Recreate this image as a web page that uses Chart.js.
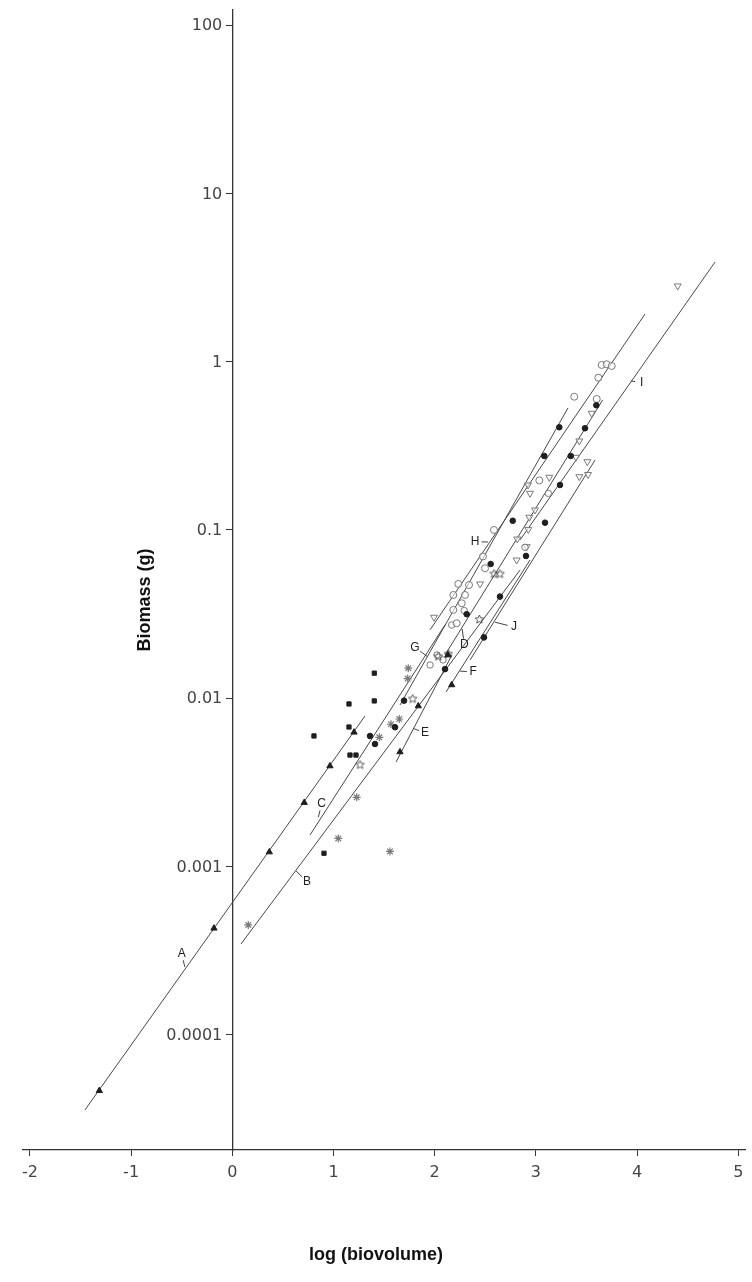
<!DOCTYPE html>
<html>
<head>
<meta charset="utf-8">
<script src="https://cdn.jsdelivr.net/npm/chart.js@4.4.1/dist/chart.umd.min.js"></script>
<style>
html,body{margin:0;padding:0;background:#fff;}
#wrap{width:752px;height:1282px;}
</style>
</head>
<body>
<div id="wrap"><canvas id="c" width="752" height="1282"></canvas></div>
<script>
// ---------- axis ticks ----------
const xTickValues = [-2, -1, 0, 1, 2, 3, 4, 5];
const xTickLabels = ['-2', '-1', '0', '1', '2', '3', '4', '5'];
const yTickValues = [0.0001, 0.001, 0.01, 0.1, 1, 10, 100];
const yTickLabels = ['0.0001', '0.001', '0.01', '0.1', '1', '10', '100'];
const xTitle = 'log (biovolume)';
const yTitle = 'Biomass (g)';

// ---------- regression lines (start / end in data units) ----------
const fitNames  = ['A', 'B', 'C', 'D', 'E', 'F', 'G', 'H', 'I', 'J'];
const fitStartX = [-1.456, 0.086, 0.768, 2.102, 1.618, 2.112, 1.657, 1.954, 2.843, 2.350];
const fitStartY = [3.58e-5, 3.47e-4, 1.54e-3, 0.0181, 4.18e-3, 0.0109, 9.12e-3, 0.0255, 0.0872, 0.01689];
const fitEndX   = [1.311, 2.843, 2.102, 3.660, 2.171, 2.942, 3.317, 4.078, 4.770, 3.585];
const fitEndY   = [7.85e-3, 0.0578, 0.0273, 0.592, 0.0181, 0.0663, 0.5308, 1.92, 3.91, 0.2606];

// line labels: text anchor and the point on the line the small tick points to
const labelTextX = [-0.500, 0.738, 0.883, 2.293, 1.904, 2.381, 1.805, 2.398, 4.045, 2.784];
const labelTextY = [3.03e-4, 8.13e-4, 2.35e-3, 0.0207, 6.22e-3, 0.01433, 0.0201, 0.0849, 0.754, 0.02652];
const labelLineX = [-0.467, 0.620, 0.847, 2.270, 1.776, 2.240, 1.934, 2.537, 3.929, 2.586];
const labelLineY = [2.50e-4, 9.55e-4, 1.94e-3, 0.0262, 6.66e-3, 0.01452, 0.01759, 0.0849, 0.768, 0.02841];

// ---------- observations ----------
const triFilledX = [-1.314, -0.181, 0.366, 0.711, 0.965, 1.203, 1.657, 1.838, 2.131, 2.168];
const triFilledY = [4.66e-5, 4.30e-4, 1.22e-3, 2.40e-3, 3.96e-3, 6.28e-3, 4.80e-3, 9.00e-3, 0.0181, 0.0120];

const squareX = [0.807, 1.153, 1.153, 1.163, 1.222, 1.403, 1.403, 0.906];
const squareY = [5.97e-3, 9.25e-3, 6.75e-3, 4.60e-3, 4.60e-3, 0.0141, 9.64e-3, 1.20e-3];

const asteriskX = [0.158, 1.047, 1.229, 1.558, 1.453, 1.568, 1.650, 1.739, 1.733];
const asteriskY = [4.50e-4, 1.47e-3, 2.58e-3, 1.23e-3, 5.86e-3, 7.01e-3, 7.53e-3, 0.0151, 0.0131];

const starX = [1.262, 1.783, 2.036, 2.134, 2.441, 2.586, 2.645];
const starY = [4.02e-3, 9.91e-3, 0.0177, 0.0183, 0.0294, 0.0548, 0.0548];

const dotX = [1.361, 1.410, 1.608, 1.697, 2.102, 2.316, 2.487, 2.553, 2.645, 2.771, 2.902, 3.090, 3.083, 3.231, 3.238, 3.344, 3.485, 3.597];
const dotY = [5.97e-3, 5.35e-3, 6.73e-3, 9.68e-3, 0.0149, 0.0316, 0.0230, 0.0628, 0.0402, 0.1135, 0.0701, 0.1105, 0.2753, 0.4076, 0.1851, 0.2753, 0.4021, 0.5508];

const circleX = [3.650, 3.700, 3.749, 3.617, 3.379, 3.601, 3.034, 2.586, 2.477, 2.497, 2.339, 2.233, 2.299, 2.184, 2.267, 2.184, 2.217];
const circleY = [0.956, 0.965, 0.943, 0.803, 0.619, 0.600, 0.197, 0.100, 0.0696, 0.0592, 0.0471, 0.0478, 0.0411, 0.0411, 0.0367, 0.0335, 0.0279];

const hexX = [1.954, 2.023, 2.082, 2.168, 2.292, 3.123, 2.892];
const hexY = [0.01577, 0.01808, 0.01690, 0.02725, 0.0332, 0.165, 0.0789];

const triOpenX = [3.551, 3.429, 3.508, 3.429, 3.515, 3.132, 2.922, 2.942, 2.991, 2.935, 2.925, 2.816, 2.909, 2.810, 2.448, 4.401, 3.396, 1.993];
const triOpenY = [0.4935, 0.3379, 0.2545, 0.2073, 0.2137, 0.2056, 0.1851, 0.1652, 0.1315, 0.1190, 0.1007, 0.0884, 0.0796, 0.0663, 0.0478, 2.818, 0.2704, 0.0303];

// ---------- helpers ----------
function pts(xs, ys) { return xs.map((x, i) => ({ x: x, y: ys[i] })); }

function makeStar(r, color) {
  const s = Math.ceil(r * 2 + 4);
  const c = document.createElement('canvas');
  c.width = s; c.height = s;
  const g = c.getContext('2d');
  g.strokeStyle = color; g.lineWidth = 1;
  g.beginPath();
  for (let i = 0; i < 10; i++) {
    const a = -Math.PI / 2 + i * Math.PI / 5;
    const rr = (i % 2) ? r * 0.45 : r;
    g.lineTo(s / 2 + rr * Math.cos(a), s / 2 + rr * Math.sin(a));
  }
  g.closePath(); g.stroke();
  return c;
}
const starImg = makeStar(4.5, '#555');

const DARK = '#1e1e1e';
const GREY = '#7a7a7a';
const LINE = '#4a4a4a';

const datasets = [
  { label: 'filled triangles', data: pts(triFilledX, triFilledY), pointStyle: 'triangle', pointRadius: 3.6,
    backgroundColor: DARK, borderColor: DARK, borderWidth: 1 },
  { label: 'squares', data: pts(squareX, squareY), pointStyle: 'rect', pointRadius: 3,
    backgroundColor: DARK, borderColor: DARK, borderWidth: 1 },
  { label: 'dots', data: pts(dotX, dotY), pointStyle: 'circle', pointRadius: 2.8,
    backgroundColor: DARK, borderColor: DARK, borderWidth: 1 },
  { label: 'asterisks', data: pts(asteriskX, asteriskY), pointStyle: 'star', pointRadius: 4,
    backgroundColor: GREY, borderColor: GREY, borderWidth: 1.2 },
  { label: 'stars', data: pts(starX, starY), pointStyle: starImg, pointRadius: 5 },
  { label: 'open circles', data: pts(circleX, circleY), pointStyle: 'circle', pointRadius: 3.5,
    backgroundColor: 'rgba(255,255,255,0.6)', borderColor: GREY, borderWidth: 1 },
  { label: 'hexagons', data: pts(hexX, hexY), pointStyle: 'circle', pointRadius: 3.2,
    backgroundColor: 'rgba(255,255,255,0.6)', borderColor: GREY, borderWidth: 1 },
  { label: 'open triangles', data: pts(triOpenX, triOpenY), pointStyle: 'triangle', rotation: 180, pointRotation: 180,
    pointRadius: 4, backgroundColor: 'rgba(255,255,255,0.6)', borderColor: GREY, borderWidth: 1 }
];
fitNames.forEach((n, i) => {
  datasets.push({
    label: 'fit ' + n,
    data: [{ x: fitStartX[i], y: fitStartY[i] }, { x: fitEndX[i], y: fitEndY[i] }],
    showLine: true, pointRadius: 0, borderColor: LINE, borderWidth: 1, fill: false
  });
});

const TICK_FONT = '16px "DejaVu Sans"';

const decorPlugin = {
  id: 'decor',
  beforeDraw(chart) {
    const ctx = chart.ctx;
    ctx.save();
    ctx.fillStyle = '#ffffff';
    ctx.fillRect(0, 0, chart.width, chart.height);
    ctx.restore();
  },
  afterDraw(chart) {
    const ctx = chart.ctx;
    const xs = chart.scales.x, ys = chart.scales.y;
    const axisX = xs.getPixelForValue(0);
    ctx.save();
    // y tick labels
    ctx.font = TICK_FONT;
    ctx.fillStyle = '#444';
    ctx.textAlign = 'right';
    ctx.textBaseline = 'middle';
    yTickValues.forEach((v, i) => {
      ctx.fillText(yTickLabels[i], axisX - 10, ys.getPixelForValue(v) + 1);
    });
    // axis titles
    ctx.fillStyle = '#111';
    ctx.font = 'bold 18px "Liberation Sans"';
    ctx.textAlign = 'center';
    ctx.textBaseline = 'middle';
    ctx.fillText(xTitle, 376, 1255);
    ctx.save();
    ctx.translate(145, 600);
    ctx.rotate(-Math.PI / 2);
    ctx.fillText(yTitle, 0, 0);
    ctx.restore();
    // line labels with small leader ticks
    ctx.font = '12px "Liberation Sans"';
    ctx.fillStyle = '#222';
    ctx.strokeStyle = '#444';
    ctx.lineWidth = 1;
    fitNames.forEach((n, i) => {
      const tx = xs.getPixelForValue(labelTextX[i]);
      const ty = ys.getPixelForValue(labelTextY[i]);
      const lx = xs.getPixelForValue(labelLineX[i]);
      const ly = ys.getPixelForValue(labelLineY[i]);
      ctx.fillText(n, tx, ty);
      const dx = lx - tx, dy = ly - ty;
      const d = Math.hypot(dx, dy) || 1;
      const ux = dx / d, uy = dy / d;
      ctx.beginPath();
      ctx.moveTo(tx + ux * 6.5, ty + uy * 6.5);
      ctx.lineTo(lx - ux * 1, ly - uy * 1);
      ctx.stroke();
    });
    ctx.restore();
  }
};

new Chart(document.getElementById('c'), {
  type: 'scatter',
  data: { datasets: datasets },
  options: {
    responsive: false,
    animation: false,
    events: [],
    layout: { autoPadding: false, padding: { top: 10, left: 22.8, right: 6.6, bottom: 92 } },
    plugins: { legend: { display: false }, tooltip: { enabled: false } },
    scales: {
      x: {
        type: 'linear', position: 'bottom', min: -2.07, max: 5.07,
        afterBuildTicks: (s) => { s.ticks = xTickValues.map(v => ({ value: v })); },
        afterFit: (s) => { s.paddingLeft = 0; s.paddingRight = 0; s.height = 40; },
        ticks: {
          font: { family: 'DejaVu Sans', size: 16 }, color: '#444', padding: 7, maxRotation: 0, autoSkip: false,
          callback: (v) => xTickLabels[xTickValues.indexOf(v)]
        },
        grid: { display: true, drawOnChartArea: false, drawTicks: true, tickLength: 6, color: '#333', lineWidth: 1 },
        border: { display: true, color: '#333', width: 1.3 }
      },
      y: {
        type: 'logarithmic', position: { x: 0 }, min: 2.07e-5, max: 122.9,
        afterBuildTicks: (s) => { s.ticks = yTickValues.map(v => ({ value: v })); },
        afterFit: (s) => { s.paddingTop = 0; s.paddingBottom = 0; },
        ticks: { display: false },
        grid: { display: true, drawOnChartArea: false, drawTicks: true, tickLength: 6, color: '#333', lineWidth: 1 },
        border: { display: true, color: '#333', width: 1.3 }
      }
    }
  },
  plugins: [decorPlugin]
});
</script>
</body>
</html>
